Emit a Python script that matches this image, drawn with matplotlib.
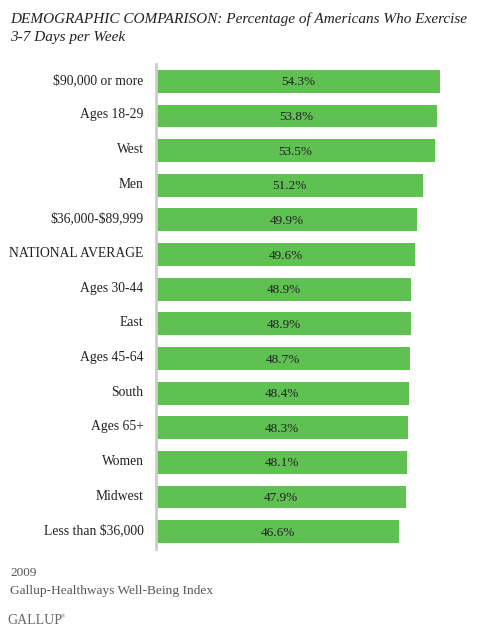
import matplotlib.pyplot as plt
import matplotlib.transforms as mtransforms

categories = ["$90,000 or more", "Ages 18-29", "West", "Men", "$36,000-$89,999",
              "NATIONAL AVERAGE", "Ages 30-44", "East", "Ages 45-64", "South",
              "Ages 65+", "Women", "Midwest", "Less than $36,000"]
values = [54.3, 53.8, 53.5, 51.2, 49.9, 49.6, 48.9, 48.9, 48.7, 48.4, 48.3, 48.1, 47.9, 46.6]
value_labels = [f"{v:.1f}%" for v in values]

plt.rcParams['font.family'] = ['Liberation Serif', 'DejaVu Serif']
plt.rcParams['text.parse_math'] = False

fig = plt.figure(figsize=(4.94, 6.32), dpi=100)
ax = fig.add_axes([156 / 494, 1 - 549 / 632, 303 / 494, (549 - 64) / 632])

ypos = list(range(len(categories)))
ax.barh(ypos, values, height=0.66, color='#5FC151', edgecolor='none', left=0)
for y, v, lab in zip(ypos, values, value_labels):
    ax.text(v / 2, y + 0.03, lab, ha='center', va='center', fontsize=9.5, color='#222222')

ax.set_xlim(0, 58)
ax.set_ylim(len(categories) - 0.5, -0.5)
ax.set_yticks(ypos)
ax.set_yticklabels(categories, fontsize=9.8, color='#222222')
ax.tick_params(axis='y', length=0, pad=9)
shift = mtransforms.ScaledTranslation(0, 2.5 / 100, fig.dpi_scale_trans)
for lbl in ax.get_yticklabels():
    lbl.set_transform(lbl.get_transform() + shift)
ax.set_xticks([])
for s in ['top', 'right', 'bottom']:
    ax.spines[s].set_visible(False)
ax.spines['left'].set_color('#cccccc')
ax.spines['left'].set_linewidth(2)

fig.text(10 / 494, 1 - 19 / 632, "DEMOGRAPHIC COMPARISON: Percentage of Americans Who Exercise",
         fontsize=11, style='italic', color='#222222', va='center')
fig.text(10 / 494, 1 - 37 / 632, "3-7 Days per Week",
         fontsize=11, style='italic', color='#222222', va='center')

fig.text(10 / 494, 1 - 573 / 632, "2009", fontsize=9.5, color='#555555', va='center')
fig.text(10 / 494, 1 - 591 / 632, "Gallup-Healthways Well-Being Index", fontsize=9.6,
         color='#555555', va='center')
fig.text(7 / 494, 1 - 621 / 632, "GALLUP", fontsize=10, color='#666666', va='center')
fig.text(61 / 494, 1 - 617 / 632, "\u00ae", fontsize=4, color='#666666', va='center')

fig.savefig("out.png", dpi=100)
